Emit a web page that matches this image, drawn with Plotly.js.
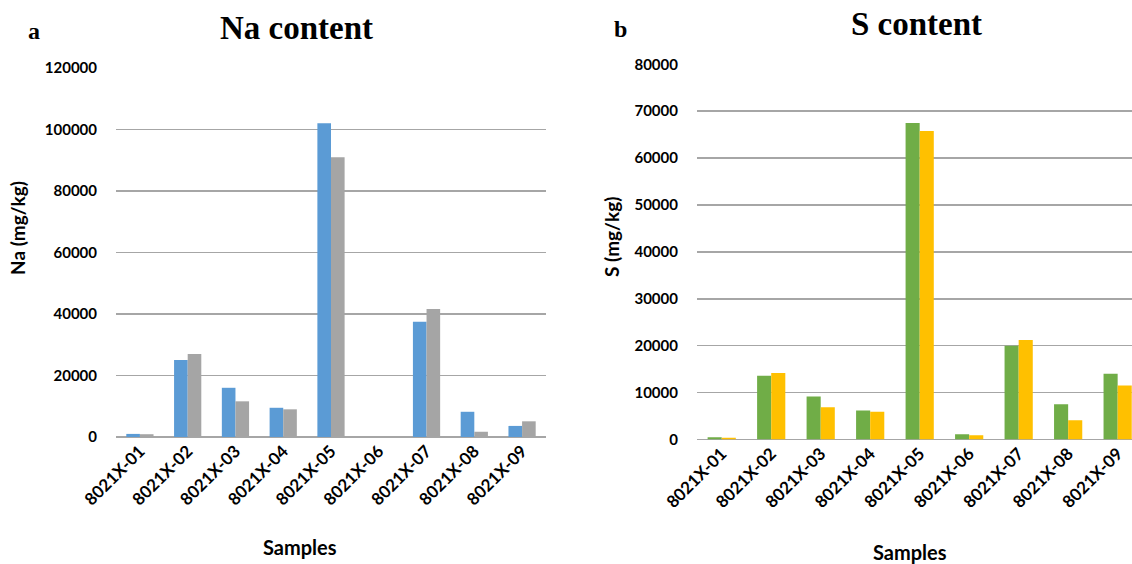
<!DOCTYPE html>
<html><head><meta charset="utf-8">
<script src="https://cdn.plot.ly/plotly-3.0.1.min.js"></script>
<style>html,body{margin:0;padding:0;background:#fff;}</style>
</head><body>
<div id="chart" style="width:1132px;height:564px;"></div>
<script>
const samples = ["8021X-01","8021X-02","8021X-03","8021X-04","8021X-05","8021X-06","8021X-07","8021X-08","8021X-09"];
const naSeries1 = [1000, 25000, 16000, 9500, 102000, 0, 37500, 8200, 3600];
const naSeries2 = [900, 27000, 11600, 9000, 91000, 0, 41600, 1700, 5100];
const sSeries1 = [500, 13600, 9200, 6200, 67500, 1100, 20000, 7500, 14000];
const sSeries2 = [400, 14200, 6900, 5900, 65800, 900, 21200, 4100, 11500];
const naTicks = [0, 20000, 40000, 60000, 80000, 100000, 120000];
const sTicks = [0, 10000, 20000, 30000, 40000, 50000, 60000, 70000, 80000];

const sans = "Lato, 'Open Sans', sans-serif";
const serif = "'Liberation Serif', 'Times New Roman', serif";
const yTickFont = {family: sans, size: 15, color: "#000", weight: 700};
const xTickFont = {family: sans, size: 17, color: "#000", weight: 700};
const gridColor = "#a6a6a6";

const traces = [
  {type: "bar", x: samples, y: naSeries1, xaxis: "x", yaxis: "y", marker: {color: "#5B9BD5"}, name: "Na 1"},
  {type: "bar", x: samples, y: naSeries2, xaxis: "x", yaxis: "y", marker: {color: "#A5A5A5"}, name: "Na 2"},
  {type: "bar", x: samples, y: sSeries1, xaxis: "x2", yaxis: "y2", marker: {color: "#70AD47"}, name: "S 1"},
  {type: "bar", x: samples, y: sSeries2, xaxis: "x2", yaxis: "y2", marker: {color: "#FFC000"}, name: "S 2"}
];

const layout = {
  width: 1132, height: 564,
  margin: {l: 0, r: 0, t: 0, b: 0},
  paper_bgcolor: "#fff", plot_bgcolor: "#fff",
  showlegend: false,
  barmode: "group",
  bargap: 0.43,
  bargroupgap: 0,
  xaxis: {
    domain: [0.1025, 0.4823], anchor: "y",
    type: "category", range: [-0.5, 8.5],
    tickangle: -45, tickfont: xTickFont,
    showgrid: false, showline: false, zeroline: false, ticks: "", fixedrange: true
  },
  yaxis: {
    domain: [0.2252, 0.8794], anchor: "x",
    range: [0, 120000], tickvals: naTicks, ticktext: naTicks.map(String),
    tickfont: yTickFont, showgrid: true, gridcolor: gridColor, gridwidth: 1.5,
    zeroline: true, zerolinecolor: gridColor, zerolinewidth: 1.5,
    showline: false, ticks: "outside", ticklen: 15, tickcolor: "rgba(0,0,0,0)"
  },
  xaxis2: {
    domain: [0.6157, 1], anchor: "y2",
    type: "category", range: [-0.5, 8.29],
    tickangle: -45, tickfont: xTickFont,
    showgrid: false, showline: false, zeroline: false, ticks: "", fixedrange: true
  },
  yaxis2: {
    domain: [0.2207, 0.8860], anchor: "x2",
    range: [0, 80000], tickvals: sTicks, ticktext: sTicks.map(String),
    tickfont: yTickFont, showgrid: true, gridcolor: gridColor, gridwidth: 1.5,
    zeroline: true, zerolinecolor: gridColor, zerolinewidth: 1.5,
    showline: false, ticks: "outside", ticklen: 15, tickcolor: "rgba(0,0,0,0)"
  },
  annotations: [
    {text: "Na content", xref: "paper", yref: "paper", x: 296/1132, y: 1 - 28/564, xanchor: "center", yanchor: "middle", showarrow: false,
     font: {family: serif, size: 33, color: "#000", weight: 700}},
    {text: "S content", xref: "paper", yref: "paper", x: 916/1132, y: 1 - 24/564, xanchor: "center", yanchor: "middle", showarrow: false,
     font: {family: serif, size: 33, color: "#000", weight: 700}},
    {text: "a", xref: "paper", yref: "paper", x: 34/1132, y: 1 - 31/564, xanchor: "center", yanchor: "middle", showarrow: false,
     font: {family: serif, size: 24, color: "#000", weight: 700}},
    {text: "b", xref: "paper", yref: "paper", x: 620/1132, y: 1 - 29/564, xanchor: "center", yanchor: "middle", showarrow: false,
     font: {family: serif, size: 24, color: "#000", weight: 700}},
    {text: "Na (mg/kg)", xref: "paper", yref: "paper", x: 17/1132, y: 1 - 228/564, xanchor: "center", yanchor: "middle", textangle: -90, showarrow: false,
     font: {family: sans, size: 19, color: "#000", weight: 700}},
    {text: "S (mg/kg)", xref: "paper", yref: "paper", x: 611/1132, y: 1 - 237/564, xanchor: "center", yanchor: "middle", textangle: -90, showarrow: false,
     font: {family: sans, size: 19, color: "#000", weight: 700}},
    {text: "Samples", xref: "paper", yref: "paper", x: 300/1132, y: 1 - 547/564, xanchor: "center", yanchor: "middle", showarrow: false,
     font: {family: sans, size: 20, color: "#000", weight: 700}},
    {text: "Samples", xref: "paper", yref: "paper", x: 910/1132, y: 1 - 552/564, xanchor: "center", yanchor: "middle", showarrow: false,
     font: {family: sans, size: 20, color: "#000", weight: 700}}
  ]
};

Plotly.newPlot("chart", traces, layout, {displayModeBar: false, staticPlot: true});
</script>
</body></html>
